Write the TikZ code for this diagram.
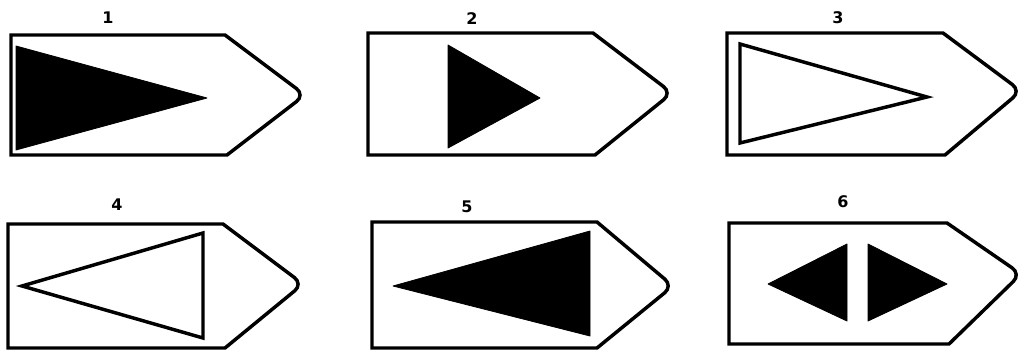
\documentclass[tikz,border=0pt]{standalone}
\usepackage{fontspec}
\setmainfont{DejaVu Sans}
\begin{document}
\begin{tikzpicture}[x=0.75pt,y=-0.75pt,line join=miter,
  frame/.style={draw=black,line width=2.6pt,fill=white},
  solidtri/.style={fill=black,draw=black,line width=0.6pt,line join=round},
  opentri/.style={draw=black,line width=2.6pt,fill=white},
  num/.style={font=\bfseries\fontsize{12}{14}\selectfont,inner sep=0pt}]
\useasboundingbox (0,0) rectangle (1024,353);
% Panel 1
\draw[frame] (11,35) -- (225,35) [rounded corners=8pt] -- (305,95) [sharp corners] -- (227,155) -- (11,155) -- cycle;
\fill[solidtri] (16,46) -- (207,98) -- (16,150) -- cycle;
\node[num] (n1) at (108,18) {1};
% Panel 2
\draw[frame] (368,33) -- (593,33) [rounded corners=8pt] -- (672,93) [sharp corners] -- (595,155) -- (368,155) -- cycle;
\fill[solidtri] (448,45) -- (540,98) -- (448,148) -- cycle;
\node[num] (n2) at (472,19) {2};
% Panel 3
\draw[frame] (727,33) -- (943,33) [rounded corners=8pt] -- (1021,91) [sharp corners] -- (945,155) -- (727,155) -- cycle;
\draw[opentri] (740,44) -- (927,97) -- (740,143) -- cycle;
\node[num] (n3) at (838,18) {3};
% Panel 4
\draw[frame] (8,224) -- (223,224) [rounded corners=8pt] -- (303,284) [sharp corners] -- (225,348) -- (8,348) -- cycle;
\draw[opentri] (22,286) -- (203,233) -- (203,338) -- cycle;
\node[num] (n4) at (117,205) {4};
% Panel 5
\draw[frame] (372,222) -- (597,222) [rounded corners=8pt] -- (673,286) [sharp corners] -- (597,348) -- (372,348) -- cycle;
\fill[solidtri] (393,286) -- (590,231) -- (590,336) -- cycle;
\node[num] (n5) at (467,207) {5};
% Panel 6
\draw[frame] (729,223) -- (947,223) [rounded corners=8pt] -- (1021,274) [sharp corners] -- (949,344) -- (729,344) -- cycle;
\fill[solidtri] (768,284) -- (847,244) -- (847,321) -- cycle;
\fill[solidtri] (868,244) -- (947,284) -- (868,321) -- cycle;
\node[num] (n6) at (843,202) {6};
\end{tikzpicture}
\end{document}
